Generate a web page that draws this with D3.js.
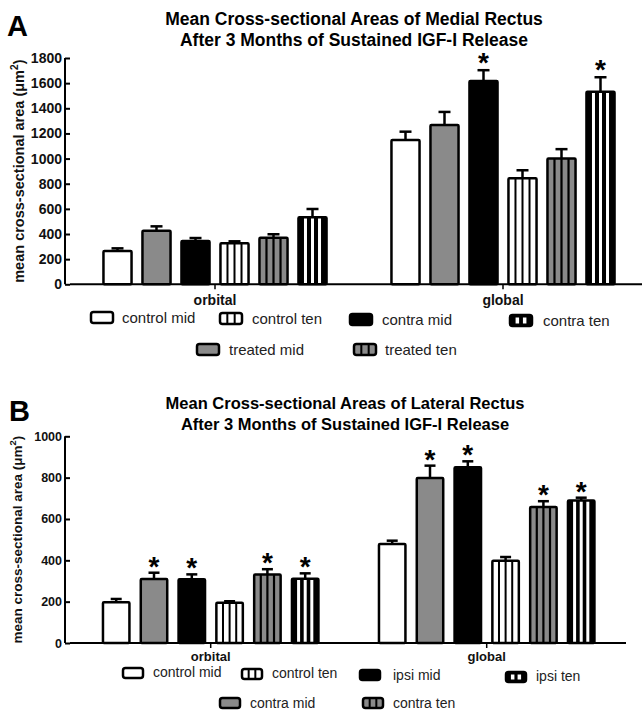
<!DOCTYPE html>
<html><head><meta charset="utf-8">
<script src="https://cdn.jsdelivr.net/npm/d3@7/dist/d3.min.js"></script>
<style>
html,body{margin:0;padding:0;background:#fff;}
svg{display:block;font-family:"Liberation Sans",Arial,Helvetica,sans-serif;}
</style></head>
<body>
<svg id="chart" width="642" height="710"></svg>
<script>
// ---------- DATA ----------
const categories = ["orbital", "global"];

// Panel A – medial rectus
const seriesA = ["control mid", "treated mid", "contra mid", "control ten", "treated ten", "contra ten"];
const meanA_orbital = [265, 426, 344, 326, 371, 533];
const errA_orbital  = [21, 35, 24, 16, 27, 66];
const starA_orbital = [false, false, false, false, false, false];
const meanA_global  = [1148, 1267, 1617, 843, 1000, 1532];
const errA_global   = [66, 104, 86, 64, 75, 115];
const starA_global  = [false, false, true, false, false, true];
const ticksA = [0, 200, 400, 600, 800, 1000, 1200, 1400, 1600, 1800];
const titleA = ["Mean Cross-sectional Areas of Medial Rectus", "After 3 Months of Sustained IGF-I Release"];

// Panel B – lateral rectus
const seriesB = ["control mid", "contra mid", "ipsi mid", "control ten", "contra ten", "ipsi ten"];
const meanB_orbital = [197, 310, 308, 195, 332, 311];
const errB_orbital  = [16, 30, 24, 7, 25, 26];
const starB_orbital = [false, true, true, false, true, true];
const meanB_global  = [479, 798, 850, 398, 658, 690];
const errB_global   = [16, 60, 29, 18, 28, 13];
const starB_global  = [false, true, true, false, true, true];
const ticksB = [0, 200, 400, 600, 800, 1000];
const titleB = ["Mean Cross-sectional Areas of Lateral Rectus", "After 3 Months of Sustained IGF-I Release"];

const yLabel = "mean cross-sectional area (\u03BCm";

// ---------- STYLES (per bar index) ----------
const GREY = "#8a8a8a";
const barStyle = [
  {fill:"#fff", sc:"#000", n:0, sw:0},
  {fill:GREY,  sc:"#000", n:0, sw:0},
  {fill:"#000", sc:"#000", n:0, sw:0},
  {fill:"#fff", sc:"#000", n:3, sw:2},
  {fill:GREY,  sc:"#000", n:3, sw:2.2},
  {fill:"#000", sc:"#fff", n:3, sw:3}
];
const iconStyle = [
  {fill:"#fff", sc:"#000", n:0, sw:0},
  {fill:GREY,  sc:"#000", n:0, sw:0},
  {fill:"#000", sc:"#000", n:0, sw:0},
  {fill:"#fff", sc:"#000", n:2, sw:2},
  {fill:GREY,  sc:"#000", n:2, sw:2},
  {fill:"#000", sc:"#fff", n:2, sw:3.5}
];

const svg = d3.select("#chart");

function stripes(g, st, x, y0, w, y1, inset) {
  for (let k = 1; k <= st.n; k++) {
    const lx = x + w * k / (st.n + 1);
    g.append("rect").attr("x", lx - st.sw / 2).attr("y", y0 + inset)
      .attr("width", st.sw).attr("height", Math.max(0, y1 - y0 - 2 * inset)).attr("fill", st.sc);
  }
}

function panel(cfg) {
  const g = svg.append("g");
  const x0 = d3.scaleBand().domain(categories).range(cfg.xRange).padding(0);
  const x1 = d3.scaleBand().domain(d3.range(6)).range([-cfg.half, cfg.half])
    .paddingInner(cfg.pin).paddingOuter(cfg.pout);
  const y = d3.scaleLinear().domain([0, cfg.ymax]).range(cfg.yRange);

  g.append("text").attr("x", cfg.letterX).attr("y", cfg.letterY)
    .attr("font-size", 29).attr("font-weight", "bold").text(cfg.letter);
  cfg.title.forEach((t, i) => {
    g.append("text").attr("x", cfg.titleX).attr("y", cfg.titleY + i * cfg.titleDy)
      .attr("text-anchor", "middle").attr("font-size", cfg.titleSize)
      .attr("font-weight", "bold").text(t);
  });

  const yAxis = d3.axisLeft(y).tickValues(cfg.ticks).tickSize(5).tickPadding(3).tickFormat(d3.format("d"));
  const ya = g.append("g").attr("transform", `translate(${cfg.axisX},0)`).call(yAxis);
  ya.select(".domain").attr("stroke", "#000").attr("stroke-width", 2)
    .attr("d", `M-5,${y(0)}V${y(cfg.ymax)}`);
  ya.selectAll(".tick line").attr("stroke", "#000").attr("stroke-width", 2);
  ya.selectAll(".tick text").attr("font-size", cfg.tickSize).attr("font-weight", "bold")
    .attr("fill", "#111").attr("font-family", "Liberation Sans, Arial, sans-serif");

  const yl = g.append("text")
    .attr("transform", `translate(${cfg.ylabX},${(y(0) + y(cfg.ymax)) / 2}) rotate(-90)`)
    .attr("text-anchor", "middle").attr("font-size", cfg.ylabSize).attr("font-weight", "bold")
    .attr("fill", "#111");
  yl.append("tspan").text(yLabel);
  yl.append("tspan").attr("dy", -6).attr("font-size", cfg.ylabSize * 0.7).text("2");
  yl.append("tspan").attr("dy", 6).text(")");

  g.append("line").attr("x1", cfg.axisX).attr("x2", cfg.xAxisEnd)
    .attr("y1", y(0)).attr("y2", y(0)).attr("stroke", "#000").attr("stroke-width", 2);
  categories.forEach(c => {
    const cx = x0(c) + x0.bandwidth() / 2;
    g.append("line").attr("x1", cx).attr("x2", cx).attr("y1", y(0)).attr("y2", y(0) + 5)
      .attr("stroke", "#000").attr("stroke-width", 1.5);
    g.append("text").attr("x", cx).attr("y", cfg.xlabY).attr("text-anchor", "middle")
      .attr("font-size", cfg.xlabSize).attr("font-weight", "bold").attr("fill", "#111").text(c);
  });

  const data = [];
  categories.forEach((c, ci) => {
    const m = cfg.means[ci], e = cfg.errs[ci], s = cfg.stars[ci];
    m.forEach((v, i) => data.push({cat: c, i, v, e: e[i], star: s[i]}));
  });
  const bw = x1.bandwidth();
  data.forEach(d => {
    const cx = x0(d.cat) + x0.bandwidth() / 2;
    const bx = cx + x1(d.i);
    const mid = bx + bw / 2;
    const top = y(d.v), et = y(d.v + d.e);
    g.append("line").attr("x1", mid).attr("x2", mid).attr("y1", top).attr("y2", et)
      .attr("stroke", "#000").attr("stroke-width", 2.5);
    g.append("line").attr("x1", mid - cfg.cap / 2).attr("x2", mid + cfg.cap / 2)
      .attr("y1", et).attr("y2", et).attr("stroke", "#000").attr("stroke-width", 2.5);
    const st = barStyle[d.i];
    g.append("rect").attr("x", bx).attr("y", top).attr("width", bw).attr("height", y(0) - top)
      .attr("fill", st.fill);
    stripes(g, st, bx, top, bw, y(0), 0);
    g.append("rect").attr("x", bx).attr("y", top).attr("width", bw).attr("height", y(0) - top)
      .attr("fill", "none").attr("stroke", "#000").attr("stroke-width", 2.5).attr("rx", 1);
    if (d.star) {
      g.append("text").attr("x", mid).attr("y", et + cfg.starDy).attr("text-anchor", "middle")
        .attr("font-size", cfg.starSize).attr("font-weight", "bold").text("*");
    }
  });

  cfg.legend.forEach(L => {
    const st = iconStyle[L.i];
    g.append("rect").attr("x", L.x).attr("y", L.y).attr("width", cfg.iconW).attr("height", cfg.iconH)
      .attr("rx", 2.5).attr("fill", st.fill);
    stripes(g, st, L.x, L.y, cfg.iconW, L.y + cfg.iconH, L.i === 5 ? 2.5 : 0);
    g.append("rect").attr("x", L.x).attr("y", L.y).attr("width", cfg.iconW).attr("height", cfg.iconH)
      .attr("rx", 2.5).attr("fill", "none").attr("stroke", "#000").attr("stroke-width", 2.5);
    g.append("text").attr("x", L.tx).attr("y", L.ty).attr("font-size", cfg.legSize)
      .attr("fill", "#222").text(cfg.series[L.i]);
  });
}

panel({
  letter: "A", letterX: 7, letterY: 36,
  title: titleA, titleX: 354, titleY: 25, titleDy: 21, titleSize: 17.5,
  xRange: [71, 647], half: 117, pin: 0.28, pout: 0.14,
  ymax: 1800, yRange: [284.3, 58], ticks: ticksA, axisX: 70, xAxisEnd: 642,
  tickSize: 14, ylabX: 24, ylabSize: 14.5, xlabY: 305, xlabSize: 14,
  means: [meanA_orbital, meanA_global], errs: [errA_orbital, errA_global], stars: [starA_orbital, starA_global],
  cap: 12, starDy: 2, starSize: 28,
  series: seriesA, iconW: 22, iconH: 11, legSize: 15,
  legend: [
    {i:0, x:91,  y:312, tx:122, ty:323},
    {i:3, x:220, y:313, tx:252, ty:324},
    {i:2, x:350, y:314, tx:382, ty:325},
    {i:5, x:510, y:315, tx:543, ty:326},
    {i:1, x:197, y:344, tx:229, ty:355},
    {i:4, x:354, y:344, tx:385, ty:355}
  ]
});

panel({
  letter: "B", letterX: 9, letterY: 421,
  title: titleB, titleX: 345, titleY: 409, titleDy: 21, titleSize: 16.5,
  xRange: [72.7, 624.7], half: 113.4, pin: 0.3, pout: 0.15,
  ymax: 1000, yRange: [643, 436.3], ticks: ticksB, axisX: 70, xAxisEnd: 626,
  tickSize: 12.5, ylabX: 22, ylabSize: 13.5, xlabY: 661, xlabSize: 13,
  means: [meanB_orbital, meanB_global], errs: [errB_orbital, errB_global], stars: [starB_orbital, starB_global],
  cap: 11, starDy: 3, starSize: 28,
  series: seriesB, iconW: 20, iconH: 10, legSize: 14,
  legend: [
    {i:0, x:123, y:668, tx:153, ty:677},
    {i:3, x:242, y:669, tx:272, ty:678},
    {i:2, x:360, y:670, tx:393, ty:680},
    {i:5, x:506, y:672, tx:536, ty:681},
    {i:1, x:220, y:698, tx:250, ty:708},
    {i:4, x:363, y:698, tx:393, ty:708}
  ]
});
</script>
</body></html>
